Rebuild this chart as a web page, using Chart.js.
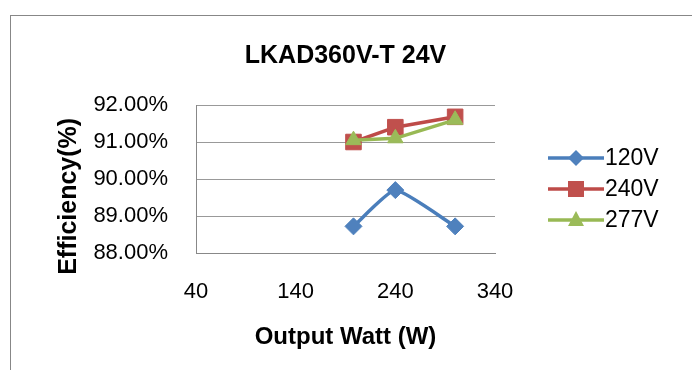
<!DOCTYPE html>
<html>
<head>
<meta charset="utf-8">
<script src="https://cdn.jsdelivr.net/npm/chart.js@4/dist/chart.umd.min.js"></script>
<style>
  html, body { margin: 0; padding: 0; background: #fff; }
  #wrap { position: relative; width: 692px; height: 370px; overflow: hidden; }
  #frame { position: absolute; left: 10px; top: 15px; width: 720px; height: 400px; border: 1px solid #878787; }
  #effChart { position: absolute; left: 0; top: 0; }
</style>
</head>
<body>
<div id="wrap">
  <div id="frame"></div>
  <canvas id="effChart" width="692" height="370"></canvas>
</div>
<script>
// data
var watts = [198, 240, 300];
var eff120 = [88.72, 89.7, 88.72];
var eff240 = [91.0, 91.4, 91.68];
var eff277 = [91.05, 91.1, 91.6];
var seriesNames = ['120V', '240V', '277V'];
var yTicks = [88, 89, 90, 91, 92];
var xTicks = [40, 140, 240, 340];

var lineColors = ['#4A7EBB', '#BE4B48', '#98B954'];
var fillColors = ['#4F81BD', '#C0504D', '#9BBB59'];
var shapes = ['rectRot', 'rect', 'triangle'];
var radii = [8.5, 11, 9];

Chart.defaults.font.family = '"Liberation Sans", Arial, sans-serif';
Chart.defaults.color = '#000';

function toPoints(ys) {
    return watts.map(function (w, i) { return { x: w, y: ys[i] }; });
}

// legend icon: a short line with the marker in the middle (Excel style)
function legendIcon(i) {
    var c = document.createElement('canvas');
    c.width = 56; c.height = 24;
    var g = c.getContext('2d');
    g.strokeStyle = lineColors[i];
    g.lineWidth = 3.5;
    g.beginPath(); g.moveTo(0, 12); g.lineTo(56, 12); g.stroke();
    g.fillStyle = fillColors[i];
    g.beginPath();
    if (i === 0) {
        g.moveTo(28, 4); g.lineTo(36, 12); g.lineTo(28, 20); g.lineTo(20, 12);
    } else if (i === 1) {
        g.rect(20, 4, 16, 16);
    } else {
        g.moveTo(28, 3); g.lineTo(36, 18); g.lineTo(20, 18);
    }
    g.closePath(); g.fill();
    return c;
}

// legend drawn to the right of the plot, one row per dataset
var sideLegend = {
    id: 'sideLegend',
    afterDraw: function (chart) {
        var ctx = chart.ctx;
        var x = 548, y = 158, gap = 31;
        ctx.save();
        ctx.font = '23px "Liberation Sans", Arial, sans-serif';
        ctx.fillStyle = '#000';
        ctx.textBaseline = 'middle';
        chart.data.datasets.forEach(function (ds, i) {
            var cy = y + i * gap;
            ctx.drawImage(legendIcon(i), x, cy - 12);
            ctx.fillText(ds.label, x + 57, cy + 1);
        });
        ctx.restore();
    }
};

var allSeries = [eff120, eff240, eff277];
var datasets = allSeries.map(function (ys, i) {
    return {
        label: seriesNames[i],
        data: toPoints(ys),
        borderColor: lineColors[i],
        backgroundColor: fillColors[i],
        borderWidth: 3.5,
        pointStyle: shapes[i],
        pointRadius: radii[i],
        pointBackgroundColor: fillColors[i],
        pointBorderColor: fillColors[i],
        pointBorderWidth: 1,
        tension: i === 0 ? 0.15 : 0,
        order: 3 - i
    };
});

var effChart = new Chart(document.getElementById('effChart').getContext('2d'), {
    type: 'line',
    data: { datasets: datasets },
    plugins: [sideLegend],
    options: {
        responsive: false,
        animation: false,
        layout: { padding: { top: 20, bottom: 10, left: 44, right: 197 } },
        plugins: {
            title: {
                display: true,
                fullSize: false,
                text: 'LKAD360V-T 24V',
                color: '#000',
                font: { size: 25, weight: 'bold' },
                padding: { top: 21, bottom: 34 }
            },
            legend: { display: false },
            tooltip: { enabled: false }
        },
        scales: {
            x: {
                type: 'linear',
                min: xTicks[0],
                max: xTicks[xTicks.length - 1],
                afterBuildTicks: function (s) { s.ticks = xTicks.map(function (v) { return { value: v }; }); },
                afterFit: function (s) { s.height = 107; },
                grid: { display: false, drawTicks: false },
                border: { display: true, color: '#888', width: 1 },
                ticks: { padding: 26, font: { size: 22 }, color: '#000', maxRotation: 0 },
                title: {
                    display: true,
                    text: 'Output Watt (W)',
                    color: '#000',
                    font: { size: 24, weight: 'bold' },
                    padding: { top: 16, bottom: 8 }
                }
            },
            y: {
                min: yTicks[0],
                max: yTicks[yTicks.length - 1],
                afterBuildTicks: function (s) { s.ticks = yTicks.map(function (v) { return { value: v }; }); },
                afterFit: function (s) { s.width = 152; },
                grid: { color: '#999', lineWidth: 1, drawTicks: false },
                border: { display: true, color: '#888', width: 1 },
                ticks: {
                    padding: 28,
                    font: { size: 22 },
                    color: '#000',
                    callback: function (v) { return v.toFixed(2) + '%'; }
                },
                title: {
                    display: true,
                    text: 'Efficiency(%)     ',
                    color: '#000',
                    font: { size: 25, weight: 'bold' },
                    padding: 10
                }
            }
        }
    }
});
</script>
</body>
</html>
